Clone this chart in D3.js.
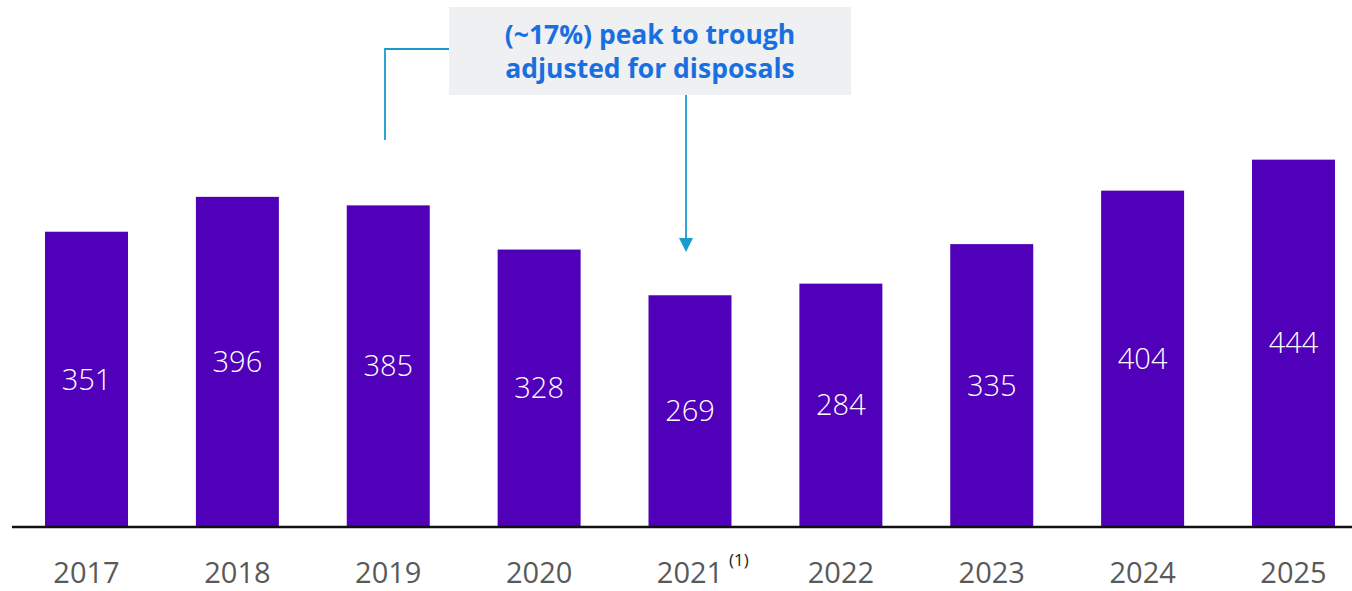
<!DOCTYPE html>
<html><head><meta charset="utf-8">
<script src="https://cdn.jsdelivr.net/npm/d3@7"></script>
<style>html,body{margin:0;padding:0;background:#fff;}svg{display:block;}</style>
</head><body>
<script>
const years = ["2017","2018","2019","2020","2021","2022","2023","2024","2025"];
const values = [351,396,385,328,269,284,335,404,444];
const footnotes = {"2021":"(1)"};
const annotationLines = ["(~17%) peak to trough","adjusted for disposals"];

const W = 1352, H = 591;
const svg = d3.select("body").append("svg").attr("width",W).attr("height",H);
const baseY = 527;
const x = d3.scaleBand().domain(years).range([7.3, 1372.7]).paddingInner(0.45).paddingOuter(0.25);
const y = d3.scaleLinear().domain([-30, 450]).range([baseY, 155]);

svg.selectAll("rect.bar").data(years).enter().append("rect")
  .attr("class","bar")
  .attr("x", d=>x(d)).attr("width", x.bandwidth())
  .attr("y", (d,i)=>y(values[i])).attr("height",(d,i)=>baseY - y(values[i]))
  .attr("fill","#5000B8");

svg.selectAll("text.val").data(years).enter().append("text")
  .attr("x", d=>x(d)+x.bandwidth()/2)
  .attr("y", (d,i)=>(y(values[i])+baseY)/2)
  .attr("dy","0.35em").attr("text-anchor","middle")
  .attr("fill","#fff").attr("font-family","'Open Sans', sans-serif").attr("font-weight",300)
  .attr("font-size",29).text((d,i)=>values[i]);

svg.append("line").attr("x1",12).attr("x2",W).attr("y1",baseY).attr("y2",baseY)
  .attr("stroke","#111").attr("stroke-width",2.5);

const lab = svg.selectAll("g.yr").data(years).enter().append("g")
  .attr("transform", d=>`translate(${x(d)+x.bandwidth()/2},583)`);
lab.append("text").attr("text-anchor","middle").attr("fill","#595959")
  .attr("font-family","'Open Sans', sans-serif").attr("font-size",29).text(d=>d);
lab.filter(d=>footnotes[d]).append("text").attr("x",39).attr("y",-17)
  .attr("fill","#222").attr("font-family","'Open Sans', sans-serif").attr("font-size",17)
  .text(d=>footnotes[d]);

// annotation
svg.append("rect").attr("x",449).attr("y",7).attr("width",402).attr("height",88).attr("fill","#EFF0F2");
svg.append("text").attr("x",650).attr("y",44).attr("text-anchor","middle")
  .attr("font-family","'Open Sans', sans-serif").attr("font-weight",700).attr("font-size",26.5)
  .attr("fill","#1A6FE0").selectAll("tspan").data(annotationLines).enter().append("tspan")
  .attr("x",650).attr("dy",(d,i)=>i?34:0).text(d=>d);

const lc = "#1A9BD0";
svg.append("path").attr("d",`M449,49H385V140`).attr("fill","none").attr("stroke",lc).attr("stroke-width",1.8);
svg.append("line").attr("x1",686).attr("x2",686).attr("y1",95).attr("y2",240).attr("stroke",lc).attr("stroke-width",1.8);
svg.append("path").attr("d","M679,238L693,238L686,252Z").attr("fill",lc);
</script>
</body></html>
